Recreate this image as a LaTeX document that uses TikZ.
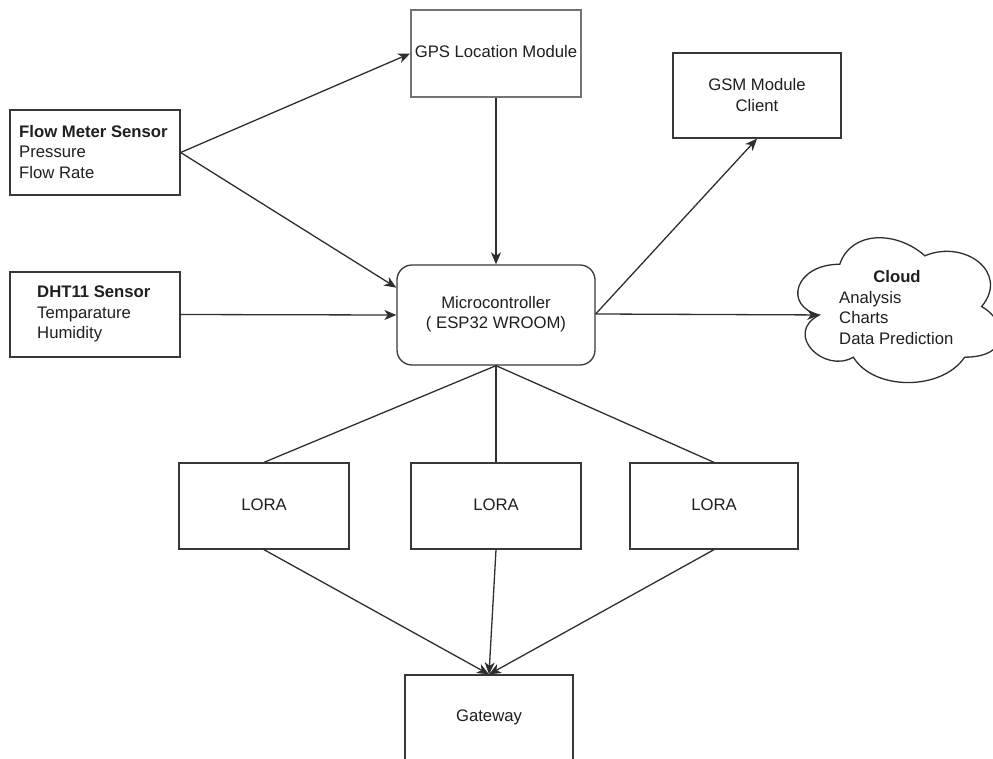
\documentclass[tikz,border=0pt]{standalone}
\usepackage{fontspec}
\setmainfont{Liberation Sans}
\usetikzlibrary{arrows.meta,calc}

\begin{document}
\begin{tikzpicture}[x=1pt,y=-1pt,
  box/.style={draw=black!78, line width=1.3pt, fill=white, inner sep=0pt},
  lbl/.style={inner sep=0pt, font=\fontsize{16.7}{20.5}\selectfont, text=black!88},
  link/.style={draw=black!82, line width=1.3pt},
  arr/.style={link, -{Stealth[length=12pt,width=10pt,inset=3.5pt]}}]

\useasboundingbox (0,0) rectangle (993,758);
\clip (0,0) rectangle (993,758);

% boxes
\node[box, minimum width=170pt, minimum height=85pt] (flow) at (95,152.5) {};
\node[box, minimum width=170pt, minimum height=85pt] (dht) at (95,314.5) {};
\node[box, draw=black!55, line width=1.7pt, minimum width=170pt, minimum height=87pt] (gps) at (496,53.5) {};
\node[box, minimum width=168pt, minimum height=85pt] (gsm) at (757,95.5) {};
\node[box, rounded corners=15pt, minimum width=198pt, minimum height=100pt] (micro) at (496,315) {};
\node[box, minimum width=170pt, minimum height=86pt] (lora1) at (264,506) {};
\node[box, minimum width=170pt, minimum height=86pt] (lora2) at (496,506) {};
\node[box, minimum width=168pt, minimum height=86pt] (lora3) at (714,506) {};
\node[box, minimum width=168pt, minimum height=100pt] (gate) at (489,725) {};

% cloud outline
\begin{scope}[shift={(783,222)}, x=227pt, y=-169pt]
  \draw[draw=black!82, line width=1.3pt, fill=white]
    (0.25,0.25) .. controls (0.05,0.25) and (0,0.5) .. (0.16,0.55)
    .. controls (0,0.66) and (0.18,0.9) .. (0.31,0.8)
    .. controls (0.4,1) and (0.7,1) .. (0.8,0.8)
    .. controls (1,0.8) and (1,0.6) .. (0.875,0.5)
    .. controls (1,0.3) and (0.8,0.1) .. (0.625,0.2)
    .. controls (0.5,0.05) and (0.3,0.05) .. (0.25,0.25) -- cycle;
  \coordinate (cloudin) at (0.16,0.55);
\end{scope}

% texts
\node[lbl, anchor=west, align=left] (tflow) at (19,152) {\textbf{Flow Meter Sensor}\\Pressure\\Flow Rate};
\node[lbl, anchor=west, align=left] (tdht) at (37,314) {\textbf{DHT11 Sensor}\\Temparature\\Humidity};
\node[lbl] (tgps) at (496,52) {GPS Location Module};
\node[lbl, align=center] (tgsm) at (757,95) {GSM Module\\Client};
\node[lbl, align=center] (tmicro) at (496,314) {Microcontroller\\( ESP32 WROOM)};
\node[lbl] (tl1) at (264,505) {LORA};
\node[lbl] (tl2) at (496,505) {LORA};
\node[lbl] (tl3) at (714,505) {LORA};
\node[lbl] (tgate) at (489,717) {Gateway};
\node[lbl] (tcloud) at (897,277) {\textbf{Cloud}};
\node[lbl, anchor=west, align=left] (tcloudl) at (839,318) {Analysis\\Charts\\Data Prediction};

% connectors
\draw[arr] (flow.east) -- (gps.west);
\draw[arr] (flow.east) -- ($(micro.north west)!0.23!(micro.south west)$);
\draw[arr] (dht.east) -- (micro.west);
\draw[arr] (gps.south) -- (micro.north);
\draw[arr] ($(micro.north east)!0.49!(micro.south east)$) -- (gsm.south);
\draw[arr] ($(micro.north east)!0.49!(micro.south east)$) -- (cloudin);
\draw[link] (micro.south) -- (lora1.north);
\draw[link] (micro.south) -- (lora2.north);
\draw[link] (micro.south) -- (lora3.north);
\draw[arr] (lora1.south) -- (gate.north);
\draw[arr] (lora2.south) -- (gate.north);
\draw[arr] (lora3.south) -- (gate.north);
\end{tikzpicture}
\end{document}
